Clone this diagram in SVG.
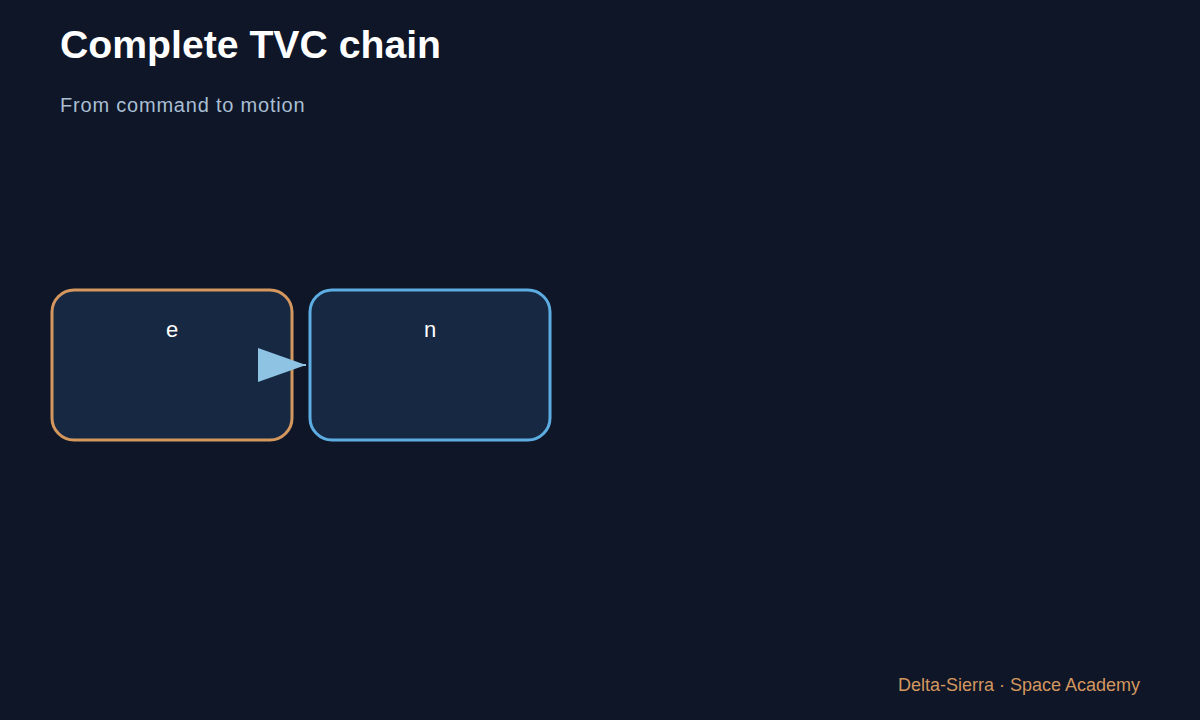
<svg xmlns="http://www.w3.org/2000/svg" width="1200" height="720" viewBox="0 0 1200 720">
<style>
.title{font-family:"Liberation Sans",Arial,sans-serif;font-weight:bold;font-size:39.2px;fill:#ffffff}
.sub{font-family:"Liberation Sans",Arial,sans-serif;font-size:20px;fill:#a9bfd3;letter-spacing:0.8px}
.foot{font-family:"Liberation Sans",Arial,sans-serif;font-size:18px;fill:#d4975e}
.box{fill:#172842;stroke-width:3}
.lbl{font-family:"Liberation Sans",Arial,sans-serif;font-size:22px;fill:#ffffff;text-anchor:middle}
</style>
<defs>
<marker id="arr" viewBox="0 0 48 34" refX="48" refY="17" markerWidth="48" markerHeight="34" markerUnits="userSpaceOnUse" orient="auto">
<path d="M0,0 L48,17 L0,34 Z" fill="#8ec3e4"/>
</marker>
</defs>
<rect width="1200" height="720" fill="#0e1628"/>
<text class="title" x="60" y="58">Complete TVC chain</text>
<text class="sub" x="60" y="112">From command to motion</text>
<g id="node-e">
<rect class="box" x="52" y="290" width="240" height="150" rx="22" stroke="#d4975e"/>
<text class="lbl" x="172" y="337">e</text>
</g>
<g id="node-n">
<rect class="box" x="310" y="290" width="240" height="150" rx="22" stroke="#5dade2"/>
<text class="lbl" x="430" y="337">n</text>
</g>
<g id="connectors">
<path d="M292,365 L306,365" stroke="#8ec3e4" stroke-width="2" fill="none" marker-end="url(#arr)"/>
</g>
<text class="foot" x="1140" y="691" text-anchor="end">Delta-Sierra · Space Academy</text>
</svg>
